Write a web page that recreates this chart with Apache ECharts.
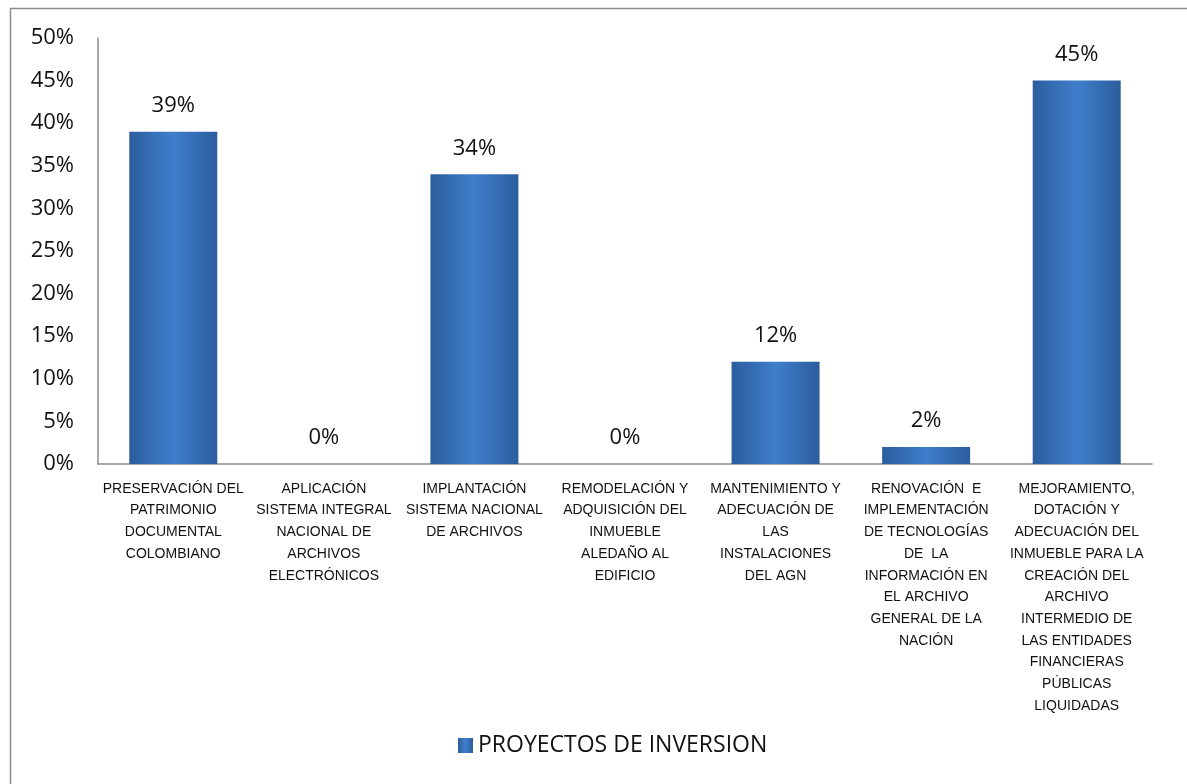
<!DOCTYPE html>
<html lang="es">
<head>
<meta charset="utf-8">
<title>Proyectos de inversion</title>
<script src="https://cdn.jsdelivr.net/npm/echarts@6/dist/echarts.min.js"></script>
<style>
  html, body { margin: 0; padding: 0; background: #fff; }
  #chart { width: 1187px; height: 784px; }
</style>
</head>
<body>
<div id="chart"></div>
<script>
// categorias (saltos de linea como en la grafica original)
var categorias = [
  'PRESERVACIÓN DEL\nPATRIMONIO\nDOCUMENTAL\nCOLOMBIANO',
  'APLICACIÓN\nSISTEMA INTEGRAL\nNACIONAL DE\nARCHIVOS\nELECTRÓNICOS',
  'IMPLANTACIÓN\nSISTEMA NACIONAL\nDE ARCHIVOS',
  'REMODELACIÓN Y\nADQUISICIÓN DEL\nINMUEBLE\nALEDAÑO AL\nEDIFICIO',
  'MANTENIMIENTO Y\nADECUACIÓN DE\nLAS\nINSTALACIONES\nDEL AGN',
  'RENOVACIÓN  E\nIMPLEMENTACIÓN\nDE TECNOLOGÍAS\nDE  LA\nINFORMACIÓN EN\nEL ARCHIVO\nGENERAL DE LA\nNACIÓN',
  'MEJORAMIENTO,\nDOTACIÓN Y\nADECUACIÓN DEL\nINMUEBLE PARA LA\nCREACIÓN DEL\nARCHIVO\nINTERMEDIO DE\nLAS ENTIDADES\nFINANCIERAS\nPÚBLICAS\nLIQUIDADAS'
];
var nombreSerie = 'PROYECTOS DE INVERSION';
var valores = [39, 0, 34, 0, 12, 2, 45];   // porcentaje
var ticksY = [0, 5, 10, 15, 20, 25, 30, 35, 40, 45, 50];

var myChart = echarts.init(document.getElementById('chart'));

var colorBarra = new echarts.graphic.LinearGradient(0, 0, 1, 0, [
  { offset: 0, color: '#2c5d9d' },
  { offset: 0.5, color: '#3f7ecb' },
  { offset: 1, color: '#2c5d9d' }
]);

var option = {
  animation: false,
  textStyle: { fontFamily: '"Liberation Sans", Arial, sans-serif' },
  graphic: [{
    type: 'rect',
    shape: { x: 10.5, y: 8.5, width: 1200, height: 800 },
    style: { fill: 'none', stroke: '#8c8c8c', lineWidth: 1.5 },
    silent: true
  }],
  grid: { left: 98, right: 35, top: 38, bottom: 320 },
  legend: {
    bottom: 22,
    left: 453,
    itemWidth: 15,
    itemHeight: 15,
    itemGap: 6,
    icon: 'rect',
    textStyle: { fontSize: 23, color: '#111', fontFamily: '"Open Sans", sans-serif' },
    data: [nombreSerie]
  },
  xAxis: {
    type: 'category',
    data: categorias,
    axisLine: { lineStyle: { color: '#8c8c8c', width: 1.5 } },
    axisTick: { show: false },
    axisLabel: {
      interval: 0,
      margin: 14,
      fontSize: 14,
      lineHeight: 21.7,
      color: '#111',
      align: 'center',
      verticalAlign: 'top'
    }
  },
  yAxis: {
    type: 'value',
    min: ticksY[0],
    max: ticksY[ticksY.length - 1],
    interval: ticksY[1] - ticksY[0],
    axisLine: { show: true, lineStyle: { color: '#8c8c8c', width: 1.5 } },
    axisTick: { show: false },
    splitLine: { show: false },
    axisLabel: {
      margin: 24,
      fontSize: 22,
      color: '#111',
      fontFamily: '"Open Sans", sans-serif',
      formatter: '{value}%'
    }
  },
  series: [{
    name: nombreSerie,
    type: 'bar',
    data: valores,
    barWidth: 88,
    itemStyle: {
      color: colorBarra
    },
    label: {
      show: true,
      position: 'top',
      distance: 15,
      fontSize: 22,
      color: '#111',
      fontFamily: '"Open Sans", sans-serif',
      formatter: '{c}%'
    }
  }]
};

myChart.setOption(option);
</script>
</body>
</html>
